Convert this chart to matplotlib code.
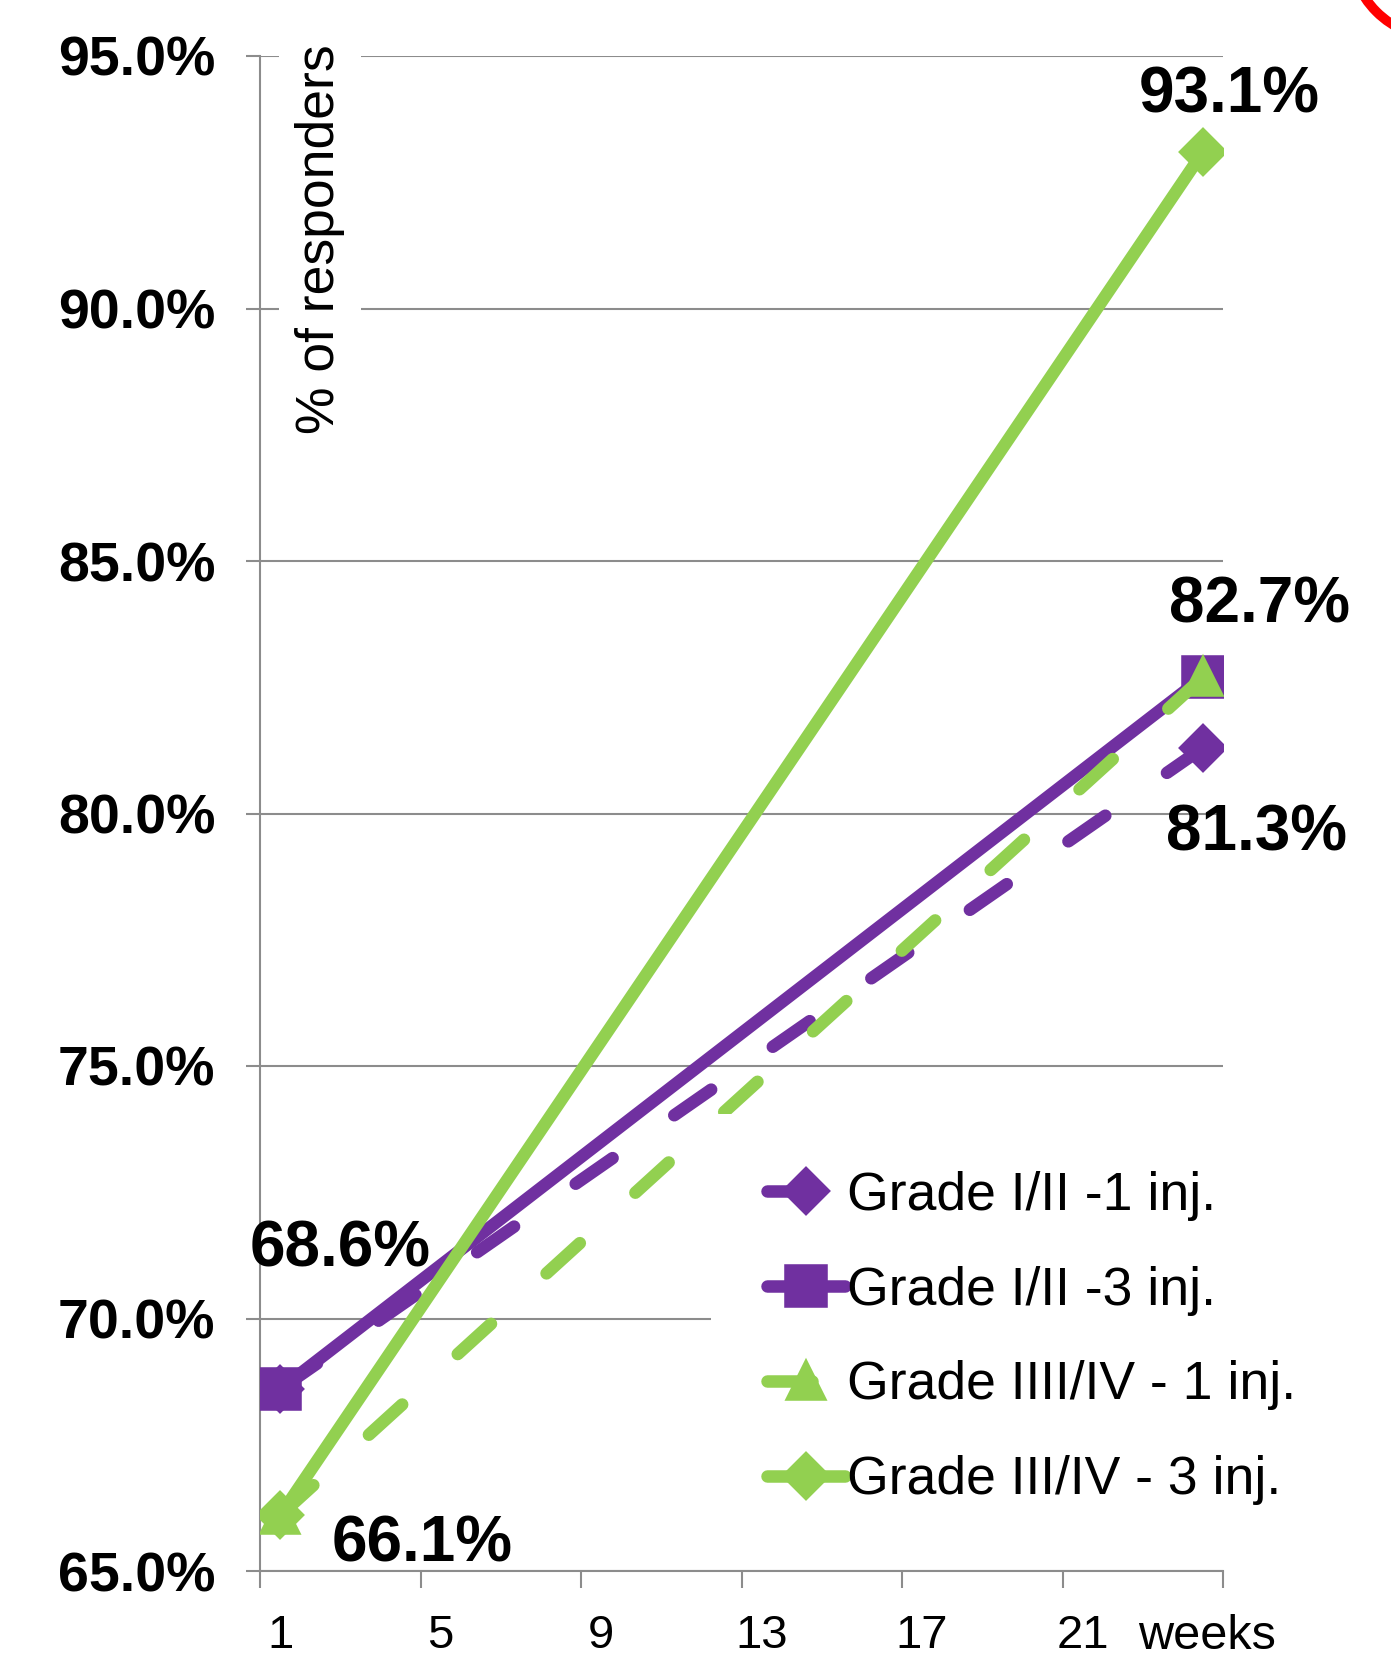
import numpy as np
import matplotlib
matplotlib.use("Agg")
import matplotlib.pyplot as plt
import matplotlib.transforms as mtransforms
from matplotlib.patches import Ellipse

plt.rcParams['font.family'] = ['Liberation Sans', 'DejaVu Sans']

######################
weeks = [1, 24]
grade12_1inj = [68.6, 81.3]
grade12_3inj = [68.6, 82.7]
grade34_1inj = [66.1, 82.7]
grade34_3inj = [66.1, 93.1]
series_names = ['Grade I/II -1 inj.', 'Grade I/II -3 inj.',
                'Grade IIII/IV - 1 inj.', 'Grade III/IV - 3 inj.']
week_labels = ['1', '5', '9', '13', '17', '21']
y_ticks = [65, 70, 75, 80, 85, 90, 95]
######################

purple = '#7030A0'
green = '#92D050'
grey = '#8c8c8c'

fig = plt.figure(figsize=(13.91, 16.64), dpi=100)
ax = fig.add_axes([260 / 1391, 1 - 1571 / 1664, 963 / 1391, 1515 / 1664])

lw = 9
dash = (3.6, 6.0)
ax.plot(weeks, grade12_1inj, color=purple, lw=lw, dashes=dash,
        dash_capstyle='round', marker='D', ms=21, mec=purple, mew=4,
        mfc=purple, label=series_names[0], zorder=3)
ax.plot(weeks, grade12_3inj, color=purple, lw=lw, solid_capstyle='round',
        marker='s', ms=27, mec=purple, mew=4, mfc=purple,
        label=series_names[1], zorder=3)
ax.plot(weeks, grade34_1inj, color=green, lw=lw, dashes=dash,
        dash_capstyle='round', marker='^', ms=25, mec=green, mew=4,
        mfc=green, label=series_names[2], zorder=4)
ax.plot(weeks, grade34_3inj, color=green, lw=lw, solid_capstyle='round',
        marker='D', ms=21, mec=green, mew=4, mfc=green,
        label=series_names[3], zorder=4)

ax.set_xlim(0.5, 24.5)
ax.set_ylim(65, 95)
ax.set_yticks(y_ticks)
ax.set_yticklabels(['{:.1f}%'.format(v) for v in y_ticks],
                   fontsize=40, fontweight='bold')
ax.set_xticks(np.arange(0.5, 25, 4))
ax.set_xticklabels([])
ax.set_xticks(np.arange(1, 22, 4), minor=True)
ax.set_xticklabels(week_labels, minor=True, fontsize=34)
ax.tick_params(axis='x', which='minor', length=0, pad=31)
ax.tick_params(axis='x', which='major', length=12, width=1.5, color=grey)
ax.tick_params(axis='y', length=10, width=1.5, color=grey, pad=22)

ax.grid(axis='y', color=grey, lw=1.5, zorder=0)
ax.set_axisbelow(True)
for s in ['top', 'right']:
    ax.spines[s].set_visible(False)
for s in ['left', 'bottom']:
    ax.spines[s].set_color(grey)
    ax.spines[s].set_linewidth(1.5)

# "weeks" after the last label
tr = mtransforms.blended_transform_factory(ax.transData, ax.transAxes)
ax.text(24.1, -0.043, 'weeks', transform=tr, fontsize=35,
        ha='center', va='center')

# y label inside plot area
ax.text(0.062, 0.879, '% of responders', transform=ax.transAxes,
        rotation=90, fontsize=38.5, ha='center', va='center',
        bbox=dict(boxstyle='square,pad=0.3', fc='white', ec='none'),
        zorder=2)

# value labels
lab_kw = dict(textcoords='offset pixels', fontsize=46, fontweight='bold',
              ha='center', va='center', annotation_clip=False, zorder=6)
ax.annotate('93.1%', xy=(weeks[1], grade34_3inj[1]), xytext=(26, 56), **lab_kw)
ax.annotate('82.7%', xy=(weeks[1], grade12_3inj[1]), xytext=(57, 72), **lab_kw)
ax.annotate('81.3%', xy=(weeks[1], grade12_1inj[1]), xytext=(54, -86), **lab_kw)
ax.annotate('68.6%', xy=(weeks[0], grade12_3inj[0]), xytext=(60, 140), **lab_kw)
ax.annotate('66.1%', xy=(weeks[0], grade34_3inj[0]), xytext=(142, -29), **lab_kw)

leg = ax.legend(loc='center left', bbox_to_anchor=(711 / 1391, 1 - 1338 / 1664),
                bbox_transform=fig.transFigure, fontsize=38.5, frameon=True,
                fancybox=False, edgecolor='none', facecolor='white',
                framealpha=1, handlelength=1.45, handletextpad=0.05,
                labelspacing=0.84, borderpad=1.05, borderaxespad=0,
                markerscale=1.0)
leg.set_zorder(5)

# red corner artefact
fig.patches.append(Ellipse((1440 / 1391, 1 + 52 / 1664), 2 * 90 / 1391,
                           2 * 90 / 1664, transform=fig.transFigure,
                           fill=False, ec='red', lw=7))

fig.savefig('out.png', dpi=100)
